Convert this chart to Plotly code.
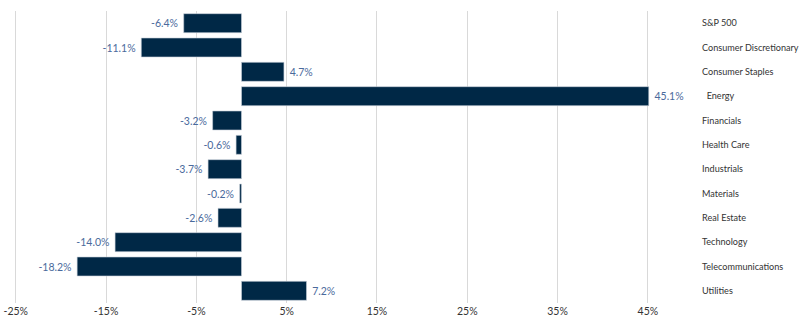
import plotly.graph_objects as go

categories = ["S&P 500", "Consumer Discretionary", "Consumer Staples", "\u00a0\u00a0Energy",
              "Financials", "Health Care", "Industrials", "Materials", "Real Estate",
              "Technology", "Telecommunications", "Utilities"]
values = [-6.4, -11.1, 4.7, 45.1, -3.2, -0.6, -3.7, -0.2, -2.6, -14.0, -18.2, 7.2]
tick_vals = [-25, -15, -5, 5, 15, 25, 35, 45]
tick_text = [f"{v}%" for v in tick_vals]

FONT = "Lato, sans-serif"

labels = [(f"{v:.1f}%\u00a0" if v < 0 else f"\u00a0{v:.1f}%") for v in values]

fig = go.Figure(go.Bar(
    x=values, y=categories, orientation="h",
    marker=dict(color="#002846", line=dict(color="#c8d0da", width=0.6)),
    text=labels, textposition="outside", cliponaxis=False,
    textfont=dict(family=FONT, size=10.5, color="#4a6a9c"),
    width=0.78,
))

fig.update_layout(
    width=801, height=331,
    margin=dict(l=5, r=106, t=11, b=28),
    paper_bgcolor="white", plot_bgcolor="white",
    showlegend=False,
    font=dict(family=FONT, size=11, color="#333333"),
    xaxis=dict(range=[-26.19, 50.22], tickvals=tick_vals, ticktext=tick_text,
               showgrid=True, gridcolor="#d9d9d9", gridwidth=1, zeroline=False,
               showline=False, ticks="", automargin=False,
               tickfont=dict(size=10.5, color="#333333")),
    yaxis=dict(autorange="reversed", side="right", showgrid=False, zeroline=False,
               showline=False, ticks="", ticklabelstandoff=6, automargin=False,
               tickfont=dict(size=9.1, color="#333333")),
)

fig.write_html("out.html")
